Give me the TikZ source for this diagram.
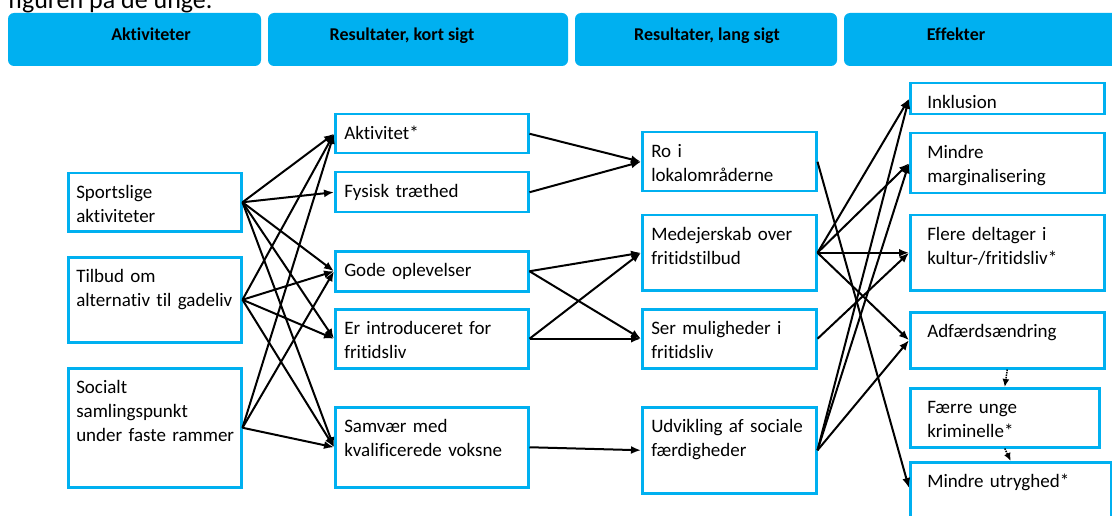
\documentclass[tikz,border=0pt]{standalone}
\usepackage{fontspec}
\setmainfont{Carlito}[Ligatures=NoCommon]
\usetikzlibrary{arrows.meta}

\definecolor{boxblue}{RGB}{0,176,240}

\tikzset{
  hdr/.style={fill=boxblue, rounded corners=6pt},
  hdrtext/.style={anchor=base, font=\fontsize{18}{22}\selectfont\bfseries},
  box/.style={draw=boxblue, line width=2.5pt, anchor=north west, align=left,
    inner xsep=2pt, inner ysep=0pt, text height=25pt, font=\fontsize{19}{24}\selectfont},
  pad/.style={execute at begin node={\leftskip=#1\relax}},
  colA/.style={box, text width=169pt, pad=6pt},
  colB/.style={box, text width=189pt, pad=7pt},
  colC/.style={box, text width=170pt, pad=7pt},
  colD/.style={box, text width=190pt, pad=15pt},
  arr/.style={line width=2pt, -{Latex[length=10pt,width=8pt]}},
  dotarr/.style={line width=1.5pt, densely dotted, -{Latex[length=8pt,width=7pt]}},
}

\begin{document}
\begin{tikzpicture}[x=1pt, y=-1pt]
    \useasboundingbox (0,0) rectangle (1112,516);

    % text above the figure, cut off at the top
    \node[anchor=base west, inner sep=0pt, font=\fontsize{26}{30}\selectfont] (caption) at (8,9) {figuren på de unge.};

    % headers
    \fill[hdr] (8,13) rectangle (261,66);
    \fill[hdr] (268,13) rectangle (568,66);
    \fill[hdr] (575,13) rectangle (837,66);
    \fill[hdr] (844,13) rectangle (1124,66);
    \node[hdrtext] (hAkt) at (151,41) {Aktiviteter};
    \node[hdrtext] (hKort) at (402,41) {Resultater, kort sigt};
    \node[hdrtext] (hLang) at (707,41) {Resultater, lang sigt};
    \node[hdrtext] (hEff) at (956,41) {Effekter};

    % Aktiviteter
    \node[colA, text depth=33pt] (sport) at (67,172) {Sportslige\\aktiviteter};
    \node[colA, text depth=60pt] (tilbud) at (67,256) {Tilbud om\\alternativ til gadeliv};
    \node[colA, text depth=94pt] (social) at (67,367) {Socialt\\samlingspunkt\\under faste rammer};

    % Resultater, kort sigt
    \node[colB, text depth=14pt] (aktiv) at (334,113) {Aktivitet*};
    \node[colB, text depth=15pt] (fysisk) at (334,171) {Fysisk træthed};
    \node[colB, text depth=15pt] (gode) at (334,250) {Gode oplevelser};
    \node[colB, text depth=34pt] (intro) at (334,308) {Er introduceret for\\fritidsliv};
    \node[colB, text depth=55pt] (samvaer) at (334,406) {Samvær med\\kvalificerede voksne};

    % Resultater, lang sigt
    \node[colC, text depth=34pt] (ro) at (641,131) {Ro i\\lokalområderne};
    \node[colC, text depth=50pt] (medej) at (641,214) {Medejerskab over\\fritidstilbud};
    \node[colC, text depth=34pt] (ser) at (641,308) {Ser muligheder i\\fritidsliv};
    \node[colC, text depth=61pt] (udv) at (641,406) {Udvikling af sociale\\færdigheder};

    % Effekter
    \node[colD, text depth=6pt] (inkl) at (909,82) {Inklusion};
    \node[colD, text depth=35pt] (margin) at (909,132) {Mindre\\marginalisering};
    \node[colD, text depth=50pt] (flere) at (909,214) {Flere deltager i\\kultur-/fritidsliv*};
    \node[colD, text depth=31pt] (adf) at (909,311) {Adfærdsændring};
    \node[colD, text depth=34pt, text width=185pt] (faerre) at (909,387) {Færre unge\\kriminelle*};
    \node[colD, text depth=45pt, text width=197pt] (utryg) at (909,461) {Mindre utryghed*};

    % arrows
    \foreach \a/\b in {sport/aktiv, sport/fysisk, sport/gode, sport/intro, sport/samvaer,
                       tilbud/aktiv, tilbud/gode, tilbud/intro, tilbud/samvaer,
                       social/aktiv, social/gode, social/samvaer,
                       aktiv/ro, fysisk/ro, gode/medej, gode/ser, intro/medej, intro/ser, samvaer/udv,
                       medej/inkl, medej/margin, medej/flere, medej/adf, ser/flere,
                       udv/inkl, udv/margin, udv/adf} {
      \draw[arr] (\a.east) -- (\b.west);
    }
    \draw[arr] (ro.east) -- ([yshift=-27pt]utryg.north west);

    \draw[dotarr] (adf.south) -- (faerre.north);
    \draw[dotarr] (faerre.south) -- (utryg.north);
\end{tikzpicture}
\end{document}
